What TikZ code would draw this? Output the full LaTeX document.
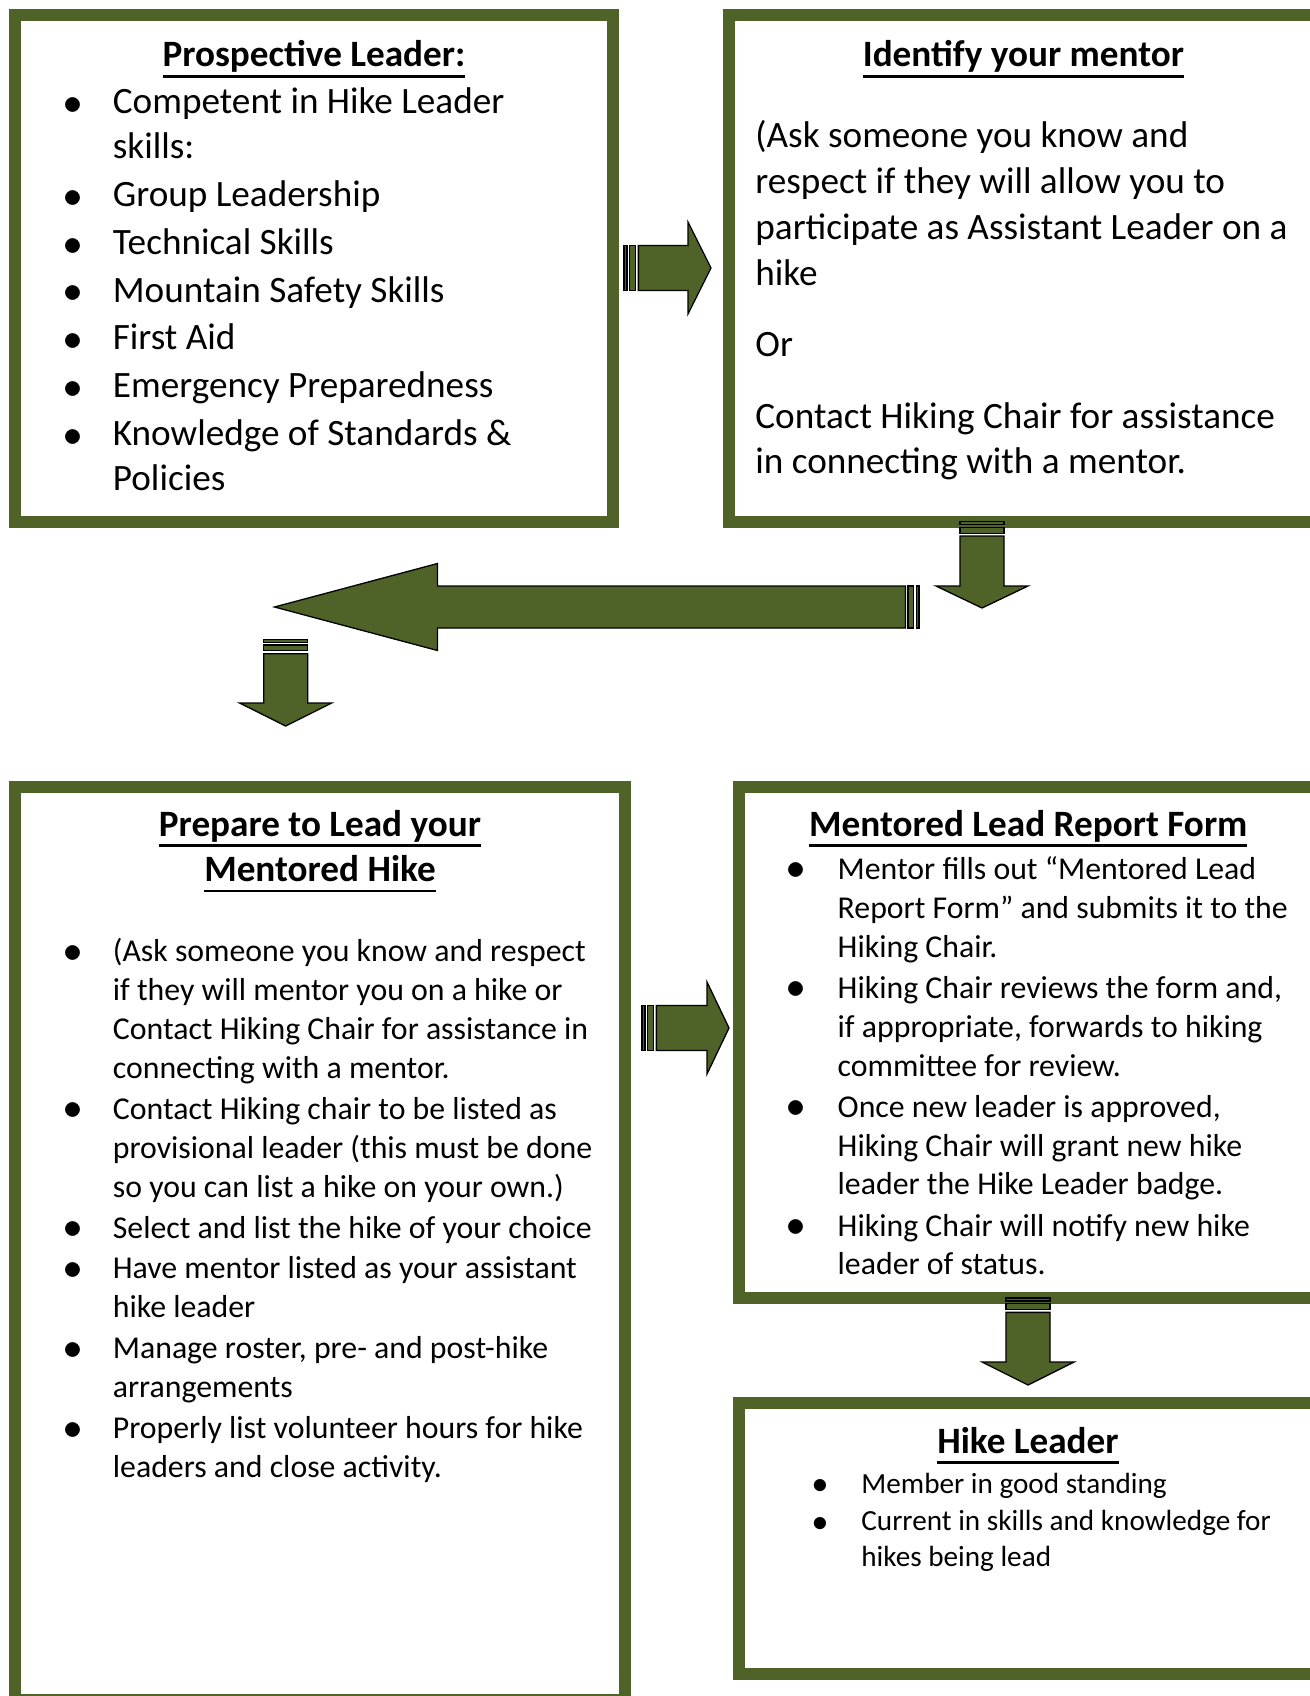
\documentclass[tikz,border=0pt]{standalone}
\usepackage{fontspec}
\setmainfont{Carlito}
\usepackage{graphicx}

\definecolor{hikegreen}{RGB}{79,98,40}

\newlength\txtind
\newlength\ulwd
\newcommand\bmark{\hangindent=\txtind\hangafter=1\makebox[\txtind][l]{\makebox[0pt][c]{\raisebox{-0.02em}{\scalebox{1.1}{$\bullet$}}}}}
\newcommand\bitem{\par\noindent\bmark}
\newcommand\ttl[1]{\leavevmode\spaceskip=\fontdimen2\font\settowidth\ulwd{#1}\rlap{\rule[-5.5pt]{\ulwd}{1.4pt}}#1}

\begin{document}
\begin{tikzpicture}[x=0.5pt,y=-0.5pt, % 1 unit = 1 pixel of the page, y down
  frame/.style={draw=hikegreen,line width=6pt,inner sep=0pt},
  blockarrow/.style={fill=hikegreen,draw=black,line width=0.65pt},
  titletext/.style={anchor=base,inner sep=0pt,align=center,text width=290pt,font=\bfseries\fontsize{18.6pt}{22.7pt}\selectfont},
  listtext/.style={anchor=base west,inner sep=0pt,align=left,text width=300pt}]

\useasboundingbox (0,0) rectangle (1310,1696);
\clip (0,0) rectangle (1310,1696);

% the five boxes
\node[frame,minimum width=299pt,minimum height=253.5pt] (prosp) at (314,268.5) {};
\node[frame,minimum width=294.4pt,minimum height=253.5pt] (mentor) at (1023.4,268.5) {};
\node[frame,minimum width=305pt,minimum height=456.5pt] (prepare) at (320,1243.5) {};
\node[frame,minimum width=289.3pt,minimum height=255.5pt] (report) at (1028.3,1042.5) {};
\node[frame,minimum width=289pt,minimum height=135.5pt] (leader) at (1028,1538.5) {};

% striped block arrows: tail point, direction, length, head length, half widths
\foreach \tx/\ty/\rot/\len/\hl/\bh/\hh in {624/268/0/87/23/22.5/46, 982/521.7/-90/86.3/22/22/46,
    919/607/180/644.5/163/21/43.5, 285.7/639.3/-90/86.7/23/22/46,
    642/1028/0/87/22/22.5/46, 1028/1298/-90/87/23/22/46}
{
  \begin{scope}[shift={(\tx,\ty)},rotate=\rot]
    \pgfmathsetmacro\st{\hh/16}
    \filldraw[blockarrow] (0,-\bh) rectangle (\st,\bh);
    \filldraw[blockarrow] (2*\st,-\bh) rectangle (4*\st,\bh);
    \filldraw[blockarrow] (5*\st,-\bh) -- (\len-\hl,-\bh) -- (\len-\hl,-\hh) -- (\len,0)
      -- (\len-\hl,\hh) -- (\len-\hl,\bh) -- (5*\st,\bh) -- cycle;
  \end{scope}
}

% Prospective Leader
\node[titletext] (prosptitle) at (314,67) {\ttl{Prospective Leader:}};
\node[listtext,font=\fontsize{18.6pt}{22.4pt}\selectfont] (prosplist) at (72.5,114) {%
  \spaceskip=\fontdimen2\font\setlength\txtind{20pt}\setlength\parskip{1.5pt}%
  \bmark Competent in Hike Leader\newline skills:
  \bitem Group Leadership
  \bitem Technical Skills
  \bitem Mountain Safety Skills
  \bitem First Aid
  \bitem Emergency Preparedness
  \bitem Knowledge of Standards \&\newline Policies\par};

% Identify your mentor
\node[titletext] (mentortitle) at (1023.4,67) {\ttl{Identify your mentor}};
\node[listtext,font=\fontsize{18.6pt}{22.9pt}\selectfont] (mentortext) at (755,148) {%
  \spaceskip=\fontdimen2\font\setlength\parskip{12.8pt}%
  (Ask someone you know and\newline respect if they will allow you to\newline
  participate as Assistant Leader on a\newline hike\par
  Or\par
  Contact Hiking Chair for assistance\newline in connecting with a mentor.\par};

% Prepare to Lead your Mentored Hike
\node[titletext] (preparetitle) at (320,836) {\ttl{Prepare to Lead your}\\\ttl{Mentored Hike}};
\node[listtext,font=\fontsize{15.9pt}{19.5pt}\selectfont] (preparelist) at (72.5,961.5) {%
  \spaceskip=\fontdimen2\font\setlength\txtind{20pt}\setlength\parskip{0.9pt}%
  \bmark (Ask someone you know and respect\newline if they will mentor you on a hike or\newline
    Contact Hiking Chair for assistance in\newline connecting with a mentor.
  \bitem Contact Hiking chair to be listed as\newline provisional leader (this must be done\newline
    so you can list a hike on your own.)
  \bitem Select and list the hike of your choice
  \bitem Have mentor listed as your assistant\newline hike leader
  \bitem Manage roster, pre- and post-hike\newline arrangements
  \bitem Properly list volunteer hours for hike\newline leaders and close activity.\par};

% Mentored Lead Report Form
\node[titletext] (reporttitle) at (1028.3,836) {\ttl{Mentored Lead Report Form}};
\node[listtext,font=\fontsize{15.9pt}{19.45pt}\selectfont] (reportlist) at (796,879.3) {%
  \spaceskip=\fontdimen2\font\setlength\txtind{20.65pt}\setlength\parskip{1.1pt}%
  \bmark Mentor fills out “Mentored Lead\newline Report Form” and submits it to the\newline Hiking Chair.
  \bitem Hiking Chair reviews the form and,\newline if appropriate, forwards to hiking\newline committee for review.
  \bitem Once new leader is approved,\newline Hiking Chair will grant new hike\newline leader the Hike Leader badge.
  \bitem Hiking Chair will notify new hike\newline leader of status.\par};

% Hike Leader
\node[titletext] (leadertitle) at (1028,1453) {\ttl{Hike Leader}};
\node[listtext,font=\fontsize{14.6pt}{17.85pt}\selectfont] (leaderlist) at (820,1493) {%
  \spaceskip=\fontdimen2\font\setlength\txtind{20.5pt}\setlength\parskip{1.1pt}%
  \bmark Member in good standing
  \bitem Current in skills and knowledge for\newline hikes being lead\par};
\end{tikzpicture}
\end{document}
